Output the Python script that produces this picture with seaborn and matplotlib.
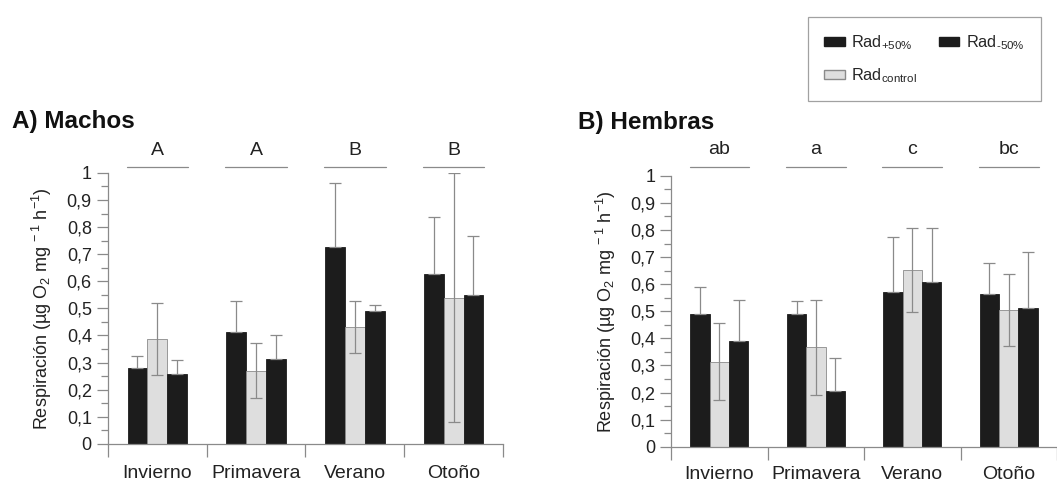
import matplotlib
matplotlib.use("Agg")
import matplotlib.pyplot as plt
from matplotlib.patches import Patch
from matplotlib.ticker import FixedLocator, FixedFormatter
import seaborn as sns
import pandas as pd
import numpy as np

sns.set_theme(style="white")
plt.rcParams['font.family'] = ['Liberation Sans', 'DejaVu Sans']
plt.rcParams['mathtext.fontset'] = 'custom'
plt.rcParams['mathtext.rm'] = 'Liberation Sans'
plt.rcParams['mathtext.it'] = 'Liberation Sans:italic'
plt.rcParams['mathtext.bf'] = 'Liberation Sans:bold'

seasons = ["Invierno", "Primavera", "Verano", "Otoño"]
treatments = ["Rad+50", "Control", "Rad-50"]

# Panel A: Machos
machos_plus = [0.28, 0.412, 0.725, 0.626]
machos_plus_err = [0.043, 0.116, 0.236, 0.212]
machos_ctrl = [0.386, 0.27, 0.433, 0.539]
machos_ctrl_err = [0.133, 0.102, 0.096, 0.46]
machos_minus = [0.258, 0.315, 0.49, 0.55]
machos_minus_err = [0.051, 0.085, 0.024, 0.218]
machos_letters = ["A", "A", "B", "B"]

# Panel B: Hembras
hembras_plus = [0.49, 0.49, 0.57, 0.564]
hembras_plus_err = [0.101, 0.049, 0.206, 0.113]
hembras_ctrl = [0.314, 0.367, 0.653, 0.505]
hembras_ctrl_err = [0.143, 0.176, 0.155, 0.134]
hembras_minus = [0.389, 0.207, 0.608, 0.512]
hembras_minus_err = [0.153, 0.121, 0.201, 0.205]
hembras_letters = ["ab", "a", "c", "bc"]

ytick_vals = [0, 0.1, 0.2, 0.3, 0.4, 0.5, 0.6, 0.7, 0.8, 0.9, 1.0]
ytick_labels = ["0", "0,1", "0,2", "0,3", "0,4", "0,5", "0,6", "0,7", "0,8", "0,9", "1"]

BLACK = "#1c1c1c"
LIGHT = "#dedede"
GREY = "#8a8a8a"
TXT = "#222222"
palette = {"Rad+50": BLACK, "Control": LIGHT, "Rad-50": BLACK}

fig = plt.figure(figsize=(10.57, 4.83), dpi=100)
axA = fig.add_axes([0.102, 0.081, 0.374, 0.561])
axB = fig.add_axes([0.635, 0.075, 0.365, 0.561])


def draw(ax, plus, plus_err, ctrl, ctrl_err, minus, minus_err, letters,
         line_y, letter_y, xpad):
    df = pd.DataFrame({
        "season": seasons * 3,
        "treat": [treatments[0]] * 4 + [treatments[1]] * 4 + [treatments[2]] * 4,
        "val": list(plus) + list(ctrl) + list(minus),
    })
    sns.barplot(data=df, x="season", y="val", hue="treat", order=seasons,
                hue_order=treatments, palette=palette, errorbar=None,
                width=0.6, ax=ax, legend=False, saturation=1)
    errs = [plus_err, ctrl_err, minus_err]
    vals = [plus, ctrl, minus]
    bar_conts = list(ax.containers)
    for k, cont in enumerate(bar_conts):
        xs = [p.get_x() + p.get_width() / 2 for p in cont.patches]
        e = np.array(errs[k])
        if k == 1:
            yerr = [e, e]
        else:
            yerr = [np.zeros_like(e), e]
        ax.errorbar(xs, vals[k], yerr=yerr, fmt="none", ecolor=GREY,
                    elinewidth=0.9, capsize=4, capthick=0.9, zorder=3)
        for p in cont.patches:
            p.set_edgecolor(GREY if k == 1 else BLACK)
            p.set_linewidth(0.6)
    for i, lab in enumerate(letters):
        ax.plot([i - 0.31, i + 0.31], [line_y, line_y], color=GREY, lw=0.9,
                clip_on=False)
        ax.text(i, letter_y, lab, ha="center", va="center", fontsize=14,
                color=TXT, clip_on=False)
    ax.set_xlim(-0.5, 3.5)
    ax.set_ylim(0, 1.0)
    ax.yaxis.set_major_locator(FixedLocator(ytick_vals))
    ax.yaxis.set_major_formatter(FixedFormatter(ytick_labels))
    ax.yaxis.set_minor_locator(FixedLocator(np.arange(0.05, 1.0, 0.1)))
    ax.set_xticks(range(4))
    ax.set_xticklabels(seasons)
    ax.set_xticks([-0.5, 0.5, 1.5, 2.5, 3.5], minor=True)
    ax.tick_params(axis="x", which="major", length=0, pad=xpad, labelsize=14,
                   labelcolor=TXT)
    ax.tick_params(axis="x", which="minor", length=9, width=0.9, color=GREY,
                   direction="out", bottom=True)
    ax.tick_params(axis="y", which="major", length=8, width=0.9, color=GREY,
                   direction="out", left=True, labelsize=13,
                   labelcolor=TXT, pad=3.5)
    ax.tick_params(axis="y", which="minor", length=5, width=0.9, color=GREY,
                   direction="out", left=True)
    sns.despine(ax=ax)
    for s in ["left", "bottom"]:
        ax.spines[s].set_color(GREY)
        ax.spines[s].set_linewidth(0.9)
    ax.set_xlabel("")
    ax.set_ylabel("Respiración (µg O$_2$ mg$^{\\ -1}$ h$^{-1}$)", fontsize=13,
                  color=TXT, labelpad=9)


draw(axA, machos_plus, machos_plus_err, machos_ctrl, machos_ctrl_err,
     machos_minus, machos_minus_err, machos_letters, 1.022, 1.082, 15.2)
draw(axB, hembras_plus, hembras_plus_err, hembras_ctrl, hembras_ctrl_err,
     hembras_minus, hembras_minus_err, hembras_letters, 1.034, 1.096, 13.7)

fig.text(12 / 1057, 1 - 121 / 483, "A) Machos", fontsize=17.5,
         fontweight="bold", ha="left", va="center", color="#111111")
fig.text(578 / 1057, 1 - 122 / 483, "B) Hembras", fontsize=17.5,
         fontweight="bold", ha="left", va="center", color="#111111")

handles = [Patch(facecolor=BLACK, edgecolor=BLACK),
           Patch(facecolor=LIGHT, edgecolor=GREY),
           Patch(facecolor=BLACK, edgecolor=BLACK)]
labels = ["Rad$_{+50\\%}$", "Rad$_{\\mathrm{control}}$", "Rad$_{\\text{-50%}}$"]
leg = fig.legend(handles, labels, ncol=2, loc="upper left",
                 bbox_to_anchor=(808 / 1057, 1 - 17 / 483),
                 borderaxespad=0,
                 fontsize=11.8, frameon=True, fancybox=False,
                 handlelength=1.25, handleheight=0.45, handletextpad=0.4,
                 columnspacing=1.3, borderpad=1.0, labelspacing=0.85)
leg.get_frame().set_edgecolor(GREY)
leg.get_frame().set_linewidth(0.9)

fig.savefig("out.png", dpi=100)
